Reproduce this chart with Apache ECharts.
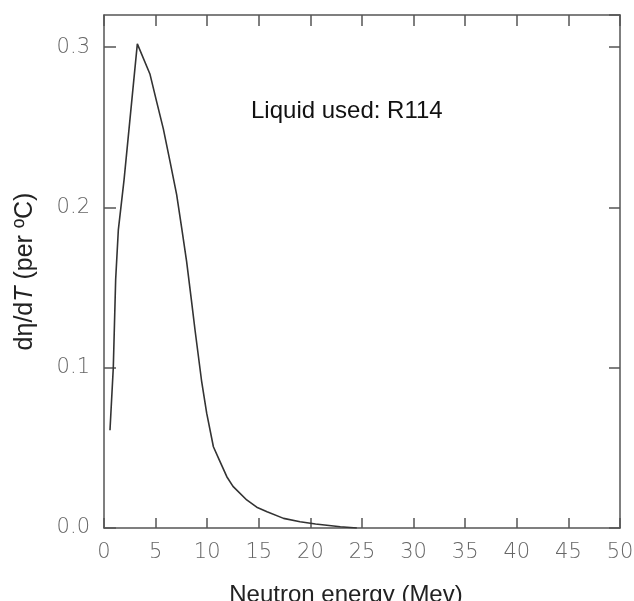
<!DOCTYPE html>
<html>
<head>
<meta charset="utf-8">
<script src="https://cdn.jsdelivr.net/npm/echarts@6/dist/echarts.min.js"></script>
<style>
html,body{margin:0;padding:0;background:#fff;}
#chart{width:634px;height:601px;}
</style>
</head>
<body>
<div id="chart"></div>
<script>
// Data
var energyMeV = [0.58, 0.9, 1.13, 1.39, 1.94, 3.23, 4.46, 5.1, 5.75, 6.4, 7.04, 7.53, 8.01, 8.49, 8.82, 9.45, 9.95, 10.6, 11.2, 11.9, 12.5, 13.83, 14.8, 15.8, 17.4, 19.0, 20.5, 22.9, 24.5];
var dEtaDT = [0.061, 0.100, 0.155, 0.186, 0.217, 0.302, 0.283, 0.266, 0.249, 0.2285, 0.208, 0.187, 0.166, 0.141, 0.1235, 0.092, 0.0716, 0.0507, 0.042, 0.032, 0.026, 0.0175, 0.013, 0.0102, 0.006, 0.0039, 0.0025, 0.0008, 0.0];
var xTicks = [0, 5, 10, 15, 20, 25, 30, 35, 40, 45, 50];
var yTicks = [0.0, 0.1, 0.2, 0.3];
var xTitle = 'Neutron energy (Mev)';
var annotation = 'Liquid used: R114';

var axisColor = '#555';
var labelColor = '#666';

var chart = echarts.init(document.getElementById('chart'), null, {renderer: 'canvas'});

var points = energyMeV.map(function (x, i) { return [x, dEtaDT[i]]; });

function axisLine() { return {show: true, onZero: false, lineStyle: {color: axisColor, width: 1.5}}; }
function tick(len) { return {show: true, inside: true, length: len, lineStyle: {color: axisColor, width: 1.5}}; }

chart.setOption({
  animation: false,
  backgroundColor: '#fff',
  grid: {left: 104, right: 14, top: 15, bottom: 73, containLabel: false, outerBoundsMode: 'none'},
  xAxis: [{
    type: 'value',
    position: 'bottom',
    min: xTicks[0],
    max: xTicks[xTicks.length - 1],
    interval: xTicks[1] - xTicks[0],
    axisLine: axisLine(),
    axisTick: tick(10),
    splitLine: {show: false},
    axisLabel: {
      color: labelColor, fontFamily: 'DejaVu Sans', fontSize: 21, fontWeight: 'lighter', margin: 14,
      formatter: function (v) { return String(v); }
    },
    name: xTitle,
    nameLocation: 'middle',
    nameGap: 55,
    nameTextStyle: {color: '#222', fontFamily: 'Liberation Sans', fontSize: 24, padding: [0, 32, 0, 0]}
  }, {
    type: 'value',
    position: 'top',
    min: xTicks[0],
    max: xTicks[xTicks.length - 1],
    interval: xTicks[1] - xTicks[0],
    axisLine: axisLine(),
    axisTick: tick(11),
    splitLine: {show: false},
    axisLabel: {show: false}
  }],
  yAxis: [{
    type: 'value',
    position: 'left',
    min: 0,
    max: 0.32,
    interval: yTicks[1] - yTicks[0],
    axisLine: axisLine(),
    axisTick: tick(12),
    splitLine: {show: false},
    axisLabel: {
      color: labelColor, fontFamily: 'DejaVu Sans', fontSize: 21, fontWeight: 'lighter', margin: 14,
      showMaxLabel: false,
      formatter: function (v) { return yTicks.some(function (t) { return Math.abs(t - v) < 1e-9; }) ? v.toFixed(1) : ''; }
    },
    name: '{a|dη/d}{b|T}{a| (per ºC)}',
    nameLocation: 'middle',
    nameGap: 66,
    nameRotate: 90,
    nameTextStyle: {
      color: '#222',
      rich: {
        a: {fontFamily: 'Liberation Sans', fontSize: 25, color: '#222'},
        b: {fontFamily: 'Liberation Sans', fontSize: 25, fontStyle: 'italic', color: '#222'}
      }
    }
  }, {
    type: 'value',
    position: 'right',
    min: 0,
    max: 0.32,
    interval: yTicks[1] - yTicks[0],
    axisLine: axisLine(),
    axisTick: tick(11),
    splitLine: {show: false},
    axisLabel: {show: false}
  }],
  graphic: [{
    type: 'text',
    left: 251,
    top: 99,
    style: {text: annotation, font: '24px "Liberation Sans"', fill: '#111'}
  }],
  series: [{
    type: 'line',
    xAxisIndex: 0,
    yAxisIndex: 0,
    data: points,
    showSymbol: false,
    smooth: false,
    lineStyle: {color: '#333', width: 1.6},
    clip: true
  }]
});
</script>
</body>
</html>
